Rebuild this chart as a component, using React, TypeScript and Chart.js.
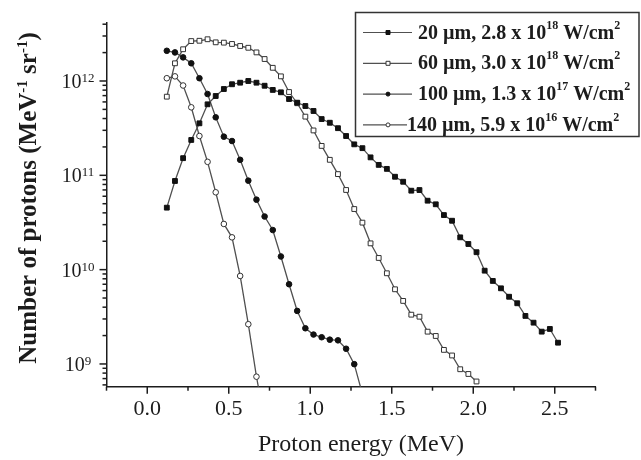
import React, { useEffect, useRef } from 'react';
import { Chart, registerables } from 'chart.js';

Chart.register(...registerables);

// ---------- data ----------
const ENERGY = [
  0.12, 0.17, 0.22, 0.27, 0.32, 0.37, 0.42, 0.47, 0.52, 0.57,
  0.62, 0.67, 0.72, 0.77, 0.82, 0.87, 0.92, 0.97, 1.02, 1.07,
  1.12, 1.17, 1.22, 1.27, 1.32, 1.37, 1.42, 1.47, 1.52, 1.57,
  1.62, 1.67, 1.72, 1.77, 1.82, 1.87, 1.92, 1.97, 2.02, 2.07,
  2.12, 2.17, 2.22, 2.27, 2.32, 2.37, 2.42, 2.47, 2.52,
];

const S20 = [
  4.54e10, 8.71e10, 1.52e11, 2.37e11, 3.56e11, 5.66e11, 6.93e11, 8.22e11, 9.23e11, 9.59e11,
  1.0e12, 9.59e11, 8.91e11, 8.04e11, 7.59e11, 6.44e11, 5.89e11, 5.43e11, 4.81e11, 3.95e11,
  3.61e11, 3.16e11, 2.61e11, 2.13e11, 1.94e11, 1.55e11, 1.29e11, 1.17e11, 9.66e10, 8.55e10,
  6.87e10, 6.98e10, 5.38e10, 4.93e10, 3.79e10, 3.3e10, 2.2e10, 1.87e10, 1.53e10, 9.75e9,
  7.59e9, 6.34e9, 5.16e9, 4.4e9, 3.23e9, 2.74e9, 2.2e9, 2.35e9, 1.68e9,
];

const S60 = [
  6.82e11, 1.54e12, 2.17e12, 2.65e12, 2.67e12, 2.77e12, 2.57e12, 2.55e12, 2.47e12, 2.35e12,
  2.25e12, 2.01e12, 1.71e12, 1.38e12, 1.12e12, 7.64e11, 5.81e11, 4.19e11, 2.99e11, 2.05e11,
  1.46e11, 1.03e11, 6.99e10, 4.39e10, 3.15e10, 1.9e10, 1.33e10, 9.15e9, 6.19e9, 4.66e9,
  3.33e9, 3.17e9, 2.2e9, 1.98e9, 1.41e9, 1.23e9, 8.79e8, 7.83e8, 6.52e8,
];

const S100 = [
  2.09e12, 2.01e12, 1.78e12, 1.54e12, 1.07e12, 7.28e11, 4.12e11, 2.57e11, 2.31e11, 1.46e11,
  8.78e10, 5.52e10, 3.66e10, 2.63e10, 1.38e10, 7.0e9, 3.65e9, 2.39e9, 2.05e9, 1.92e9,
  1.81e9, 1.78e9, 1.45e9, 9.95e8, 4.8e8,
];

const S140 = [
  1.07e12, 1.12e12, 8.96e11, 5.26e11, 2.61e11, 1.39e11, 6.61e10, 3.05e10, 2.2e10, 8.57e9,
  2.64e9, 7.33e8, 2.5e8,
];

const THICKNESS = ['20 µm', '60 µm', '100 µm', '140 µm'];
const INTENSITY_MANTISSA = ['2.8', '3.0', '1.3', '5.9'];
const INTENSITY_EXPONENT = ['18', '18', '17', '16'];

const X_MIN = -0.25;
const X_MAX = 2.75;
const Y_MIN = 5.74e8;
const Y_MAX = 4.15e12;

const X_TICKS = [-0.25, 0, 0.25, 0.5, 0.75, 1, 1.25, 1.5, 1.75, 2, 2.25, 2.5, 2.75];
const X_MAJOR = [0, 0.5, 1, 1.5, 2, 2.5];
const X_LABELS = ['0.0', '0.5', '1.0', '1.5', '2.0', '2.5'];

const Y_MAJOR = [1e9, 1e10, 1e11, 1e12];
const Y_EXPONENTS = ['9', '10', '11', '12'];
const Y_MINOR_DECADES = [1e8, 1e9, 1e10, 1e11, 1e12];
const Y_MINOR_MULT = [2, 3, 4, 5, 6, 7, 8, 9];

// ---------- styles ----------
const SERIF = '"Liberation Serif", "Times New Roman", serif';
const INK = '#1c1c1c';
const LINE_GRAY = '#505050';

type Seg = { t: string; sup?: boolean };

function drawRich(
  ctx: CanvasRenderingContext2D,
  segs: Seg[],
  x: number,
  y: number,
  baseFont: string,
  supFont: string,
  raise: number,
  align: 'left' | 'center' | 'right'
) {
  let w = 0;
  for (const s of segs) {
    ctx.font = s.sup ? supFont : baseFont;
    w += ctx.measureText(s.t).width;
  }
  let cx = align === 'center' ? x - w / 2 : align === 'right' ? x - w : x;
  ctx.textAlign = 'left';
  ctx.textBaseline = 'alphabetic';
  for (const s of segs) {
    ctx.font = s.sup ? supFont : baseFont;
    ctx.fillText(s.t, cx, s.sup ? y - raise : y);
    cx += ctx.measureText(s.t).width;
  }
}

type Marker = { style: 'rect' | 'circle'; filled: boolean };
const MARKERS: Marker[] = [
  { style: 'rect', filled: true },
  { style: 'rect', filled: false },
  { style: 'circle', filled: true },
  { style: 'circle', filled: false },
];

function drawMarker(ctx: CanvasRenderingContext2D, m: Marker, x: number, y: number, size: number) {
  ctx.beginPath();
  if (m.style === 'rect') {
    ctx.rect(x - size / 2, y - size / 2, size, size);
  } else {
    ctx.arc(x, y, size / 2, 0, Math.PI * 2);
  }
  ctx.fillStyle = m.filled ? '#111' : '#fff';
  ctx.fill();
  ctx.lineWidth = 1;
  ctx.strokeStyle = m.filled ? '#111' : '#333';
  ctx.stroke();
}

const decorPlugin = {
  id: 'decor',
  afterDraw(chart: any) {
    const ctx: CanvasRenderingContext2D = chart.ctx;
    const xs = chart.scales.x;
    const ys = chart.scales.y;
    const { left, bottom } = chart.chartArea;
    ctx.save();
    ctx.strokeStyle = INK;
    ctx.lineWidth = 1.5;

    // x tick marks
    for (const v of X_TICKS) {
      const px = xs.getPixelForValue(v);
      const len = X_MAJOR.includes(v) ? 7 : 4;
      ctx.beginPath();
      ctx.moveTo(px, bottom);
      ctx.lineTo(px, bottom + len);
      ctx.stroke();
    }
    // y tick marks
    for (const v of Y_MAJOR) {
      const py = ys.getPixelForValue(v);
      ctx.beginPath();
      ctx.moveTo(left, py);
      ctx.lineTo(left - 7, py);
      ctx.stroke();
    }
    for (const d of Y_MINOR_DECADES) {
      for (const m of Y_MINOR_MULT) {
        const v = d * m;
        if (v < Y_MIN || v > Y_MAX) continue;
        const py = ys.getPixelForValue(v);
        ctx.beginPath();
        ctx.moveTo(left, py);
        ctx.lineTo(left - 4, py);
        ctx.stroke();
      }
    }

    // y tick labels (10^n)
    ctx.fillStyle = INK;
    Y_MAJOR.forEach((v, i) => {
      const py = ys.getPixelForValue(v);
      drawRich(
        ctx,
        [{ t: '10' }, { t: Y_EXPONENTS[i], sup: true }],
        78,
        py + 7,
        `20px ${SERIF}`,
        `13px ${SERIF}`,
        6,
        'center'
      );
    });

    // x title
    drawRich(ctx, [{ t: 'Proton energy (MeV)' }], 361, 451, `24px ${SERIF}`, `14px ${SERIF}`, 0, 'center');

    // y title
    ctx.save();
    ctx.translate(36, 198);
    ctx.rotate(-Math.PI / 2);
    drawRich(
      ctx,
      [
        { t: 'Number of protons (MeV' },
        { t: '-1', sup: true },
        { t: ' sr' },
        { t: '-1', sup: true },
        { t: ')' },
      ],
      0,
      0,
      `bold 25px ${SERIF}`,
      `bold 15px ${SERIF}`,
      9,
      'center'
    );
    ctx.restore();

    // legend box
    ctx.lineWidth = 1.5;
    ctx.strokeStyle = '#333';
    ctx.strokeRect(355.5, 12.5, 283.5, 124);
    THICKNESS.forEach((name, i) => {
      const base = 38.5 + 30.8 * i;
      const cy = base - 6;
      const textX = i === 3 ? 407 : 418;
      const lineEnd = i === 3 ? 407 : 412;
      ctx.strokeStyle = LINE_GRAY;
      ctx.lineWidth = 1.2;
      ctx.beginPath();
      ctx.moveTo(363, cy);
      ctx.lineTo(lineEnd, cy);
      ctx.stroke();
      drawMarker(ctx, MARKERS[i], 388, cy, 4);
      ctx.fillStyle = INK;
      drawRich(
        ctx,
        [
          { t: `${name}, ${INTENSITY_MANTISSA[i]} x 10` },
          { t: INTENSITY_EXPONENT[i], sup: true },
          { t: ' W/cm' },
          { t: '2', sup: true },
        ],
        textX,
        base,
        `bold 20px ${SERIF}`,
        `bold 12px ${SERIF}`,
        10,
        'left'
      );
    });
    ctx.restore();
  },
};

function series(values: number[]) {
  return values.map((y, i) => ({ x: ENERGY[i], y }));
}

export default function App() {
  const ref = useRef<HTMLCanvasElement>(null);

  useEffect(() => {
    document.body.style.margin = '0';
    document.body.style.background = '#fff';
    const canvas = ref.current;
    if (!canvas) return;

    const mk = (label: string, values: number[], m: Marker) => ({
      label,
      data: series(values),
      borderColor: LINE_GRAY,
      borderWidth: 1.3,
      pointStyle: m.style,
      pointRadius: m.style === 'rect' ? 3.4 : 2.8,
      pointBackgroundColor: m.filled ? '#111' : '#fff',
      pointBorderColor: m.filled ? '#111' : '#333',
      pointBorderWidth: 1,
      tension: 0,
      fill: false,
    });

    const chart = new Chart(canvas, {
      type: 'line',
      data: {
        datasets: [
          mk(THICKNESS[0], S20, MARKERS[0]),
          mk(THICKNESS[1], S60, MARKERS[1]),
          mk(THICKNESS[2], S100, MARKERS[2]),
          mk(THICKNESS[3], S140, MARKERS[3]),
        ],
      },
      options: {
        responsive: false,
        animation: false,
        events: [],
        layout: { padding: { top: 22.7, right: 45.5, left: 0, bottom: 0 } },
        plugins: {
          legend: { display: false },
          tooltip: { enabled: false },
          title: { display: false },
        },
        scales: {
          x: {
            type: 'linear',
            min: X_MIN,
            max: X_MAX,
            grid: { display: false, drawTicks: false },
            border: { display: true, color: INK, width: 1.5 },
            afterBuildTicks: (s: any) => {
              s.ticks = X_TICKS.map((v) => ({ value: v }));
            },
            afterFit: (s: any) => {
              s.height = 73.3;
            },
            ticks: {
              autoSkip: false,
              maxRotation: 0,
              minRotation: 0,
              padding: 9,
              color: INK,
              font: { family: SERIF, size: 22 },
              callback: (v: any) => {
                const idx = X_MAJOR.indexOf(Number(v));
                return idx >= 0 ? X_LABELS[idx] : '';
              },
            },
          },
          y: {
            type: 'logarithmic',
            min: Y_MIN,
            max: Y_MAX,
            grid: { display: false, drawTicks: false },
            border: { display: true, color: INK, width: 1.5 },
            ticks: { display: false },
            afterFit: (s: any) => {
              s.width = 106.5;
            },
          },
        },
      } as any,
      plugins: [decorPlugin],
    });

    return () => chart.destroy();
  }, []);

  return (
    <div style={{ width: 641, height: 460, background: '#fff' }}>
      <canvas ref={ref} width={641} height={460} style={{ width: 641, height: 460, display: 'block' }} />
    </div>
  );
}
